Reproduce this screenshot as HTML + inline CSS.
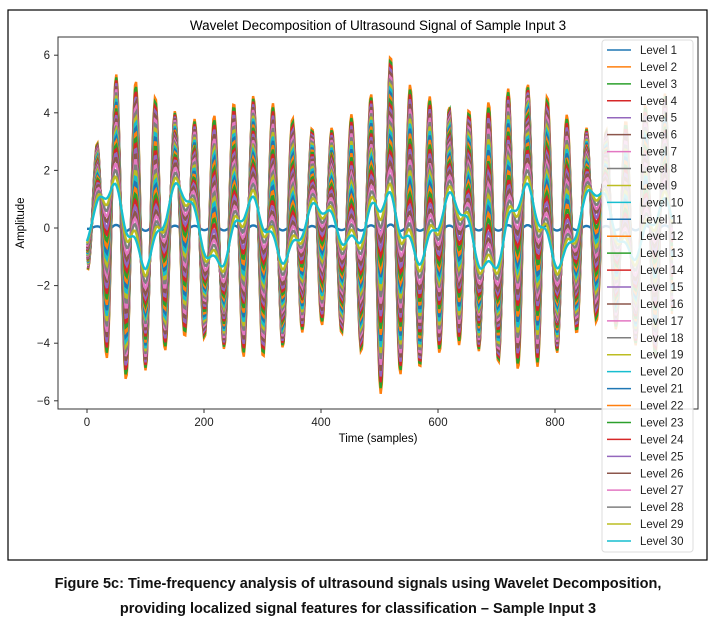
<!DOCTYPE html><html><head><style>
body{margin:0;background:#fff;width:716px;height:634px;overflow:hidden;font-family:"Liberation Sans",sans-serif}
.cap{position:absolute;left:0;width:716px;text-align:center;font-weight:bold;font-size:14.5px;color:#111}
</style></head><body>
<svg id="s" width="716" height="634" style="position:absolute;left:0;top:0" font-family="Liberation Sans, DejaVu Sans, sans-serif">
<rect x="8" y="10" width="699" height="550" fill="none" stroke="#000" stroke-width="1.2"/>
<text x="378" y="30" font-size="13.5" text-anchor="middle">Wavelet Decomposition of Ultrasound Signal of Sample Input 3</text>
<g id="plot"></g>
<rect x="58" y="37" width="640" height="372" fill="none" stroke="#333" stroke-width="1"/>
<g id="ax" font-size="11.5" fill="#222"></g>
<text x="378" y="442" font-size="11.5" text-anchor="middle">Time (samples)</text>
<text transform="translate(24,223) rotate(-90)" font-size="11.5" text-anchor="middle">Amplitude</text>
<g id="leg"></g>
</svg>
<div class="cap" style="top:576px">Figure 5c: Time-frequency analysis of ultrasound signals using Wavelet Decomposition,</div>
<div class="cap" style="top:601px">providing localized signal features for classification – Sample Input 3</div>
<script>
const C=["#1f77b4","#ff7f0e","#2ca02c","#d62728","#9467bd","#8c564b","#e377c2","#7f7f7f","#bcbd22","#17becf"];
const X=t=>87+t*117/200, Y=v=>228-v*28.8;
let ax="";
[0,200,400,600,800].forEach(v=>{ax+=`<line x1="${X(v)}" x2="${X(v)}" y1="409" y2="413" stroke="#333"/><text x="${X(v)}" y="426" text-anchor="middle">${v}</text>`});
[-6,-4,-2,0,2,4,6].forEach(v=>{ax+=`<line x1="54" x2="58" y1="${Y(v)}" y2="${Y(v)}" stroke="#333"/><text x="50" y="${Y(v)+4}" text-anchor="end">${v<0?"−"+(-v):v}</text>`});
document.getElementById("ax").innerHTML=ax;
function env(t){let e=4.3+0.6*Math.sin(t/37)+0.4*Math.sin(t/91+1);if(t<40)e*=0.3+0.7*t/40;if(t>490&&t<530)e+=0.9;return e}
function slow(t){return 1.0*Math.sin(2*Math.PI*(t-10)/118)+0.3*Math.sin(t/23+0.5)+0.2*Math.sin(t/61)}
let p="";
for(let k=1;k<=30;k++){
 const f=k==1?0.02:Math.pow((31-k)/29,0.8), w=k==1?0.0:Math.min(1,(k-1)/25);
 let d="";
 for(let t=0;t<=1000;t+=2){
  const v=f*env(t)*Math.sin(2*Math.PI*(t-8)/33.5)+w*slow(t);
  d+=(t?"L":"M")+X(t).toFixed(1)+","+Y(v).toFixed(1);
 }
 p+=`<path d="${d}" fill="none" stroke="${C[(k-1)%10]}" stroke-width="2.4"/>`;
}
document.getElementById("plot").innerHTML=`<clipPath id="c"><rect x="58" y="37" width="640" height="372"/></clipPath><g clip-path="url(#c)">${p}</g>`;
let l=`<rect x="602" y="40" width="91" height="512" rx="3" fill="#fff" fill-opacity="0.85" stroke="#ddd"/>`;
for(let k=1;k<=30;k++){const y=50+(k-1)*16.93;l+=`<line x1="607" x2="631" y1="${y}" y2="${y}" stroke="${C[(k-1)%10]}" stroke-width="1.5"/><text x="640" y="${y+4}" font-size="11.5" fill="#222">Level ${k}</text>`}
document.getElementById("leg").innerHTML=l;
</script>
</body></html>
